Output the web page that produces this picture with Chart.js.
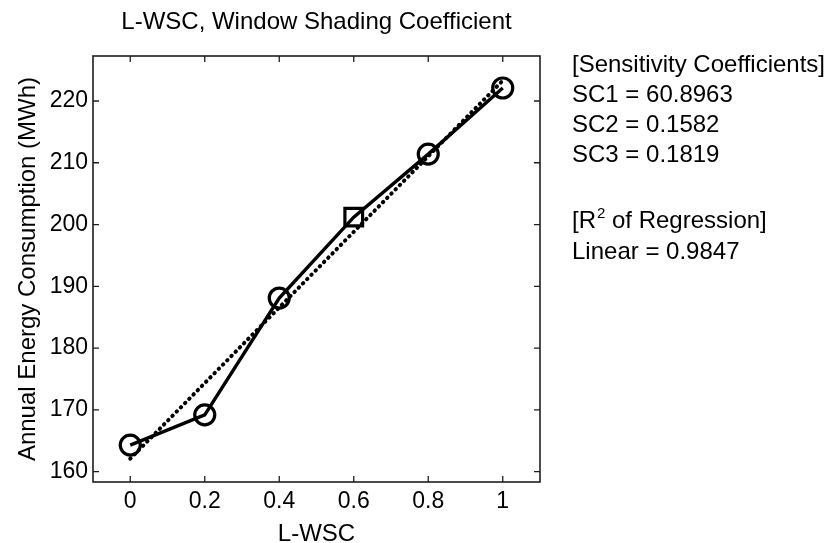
<!DOCTYPE html>
<html>
<head>
<meta charset="utf-8">
<title>L-WSC, Window Shading Coefficient</title>
<script src="https://cdn.jsdelivr.net/npm/chart.js@4/dist/chart.umd.min.js"></script>
<style>
  html, body { margin: 0; padding: 0; background: #ffffff; }
  #wrap { width: 834px; height: 543px; position: relative; }
</style>
</head>
<body>
<div id="wrap"><canvas id="chart"></canvas></div>
<script>
// Simulated annual energy use for each L-WSC setting
const xValues = [0, 0.2, 0.4, 0.6, 0.8, 1];
const energyMWh = [164.3, 169.2, 188.1, 201.2, 211.4, 222.1];
// Base case (0.6) is marked with a square
const markerStyles = ['circle', 'circle', 'circle', 'rect', 'circle', 'circle'];

// Linear regression line end points
const fitX = [0, 1];
const fitY = [162.1, 223.3];

// Axis ticks
const xTicks = [0, 0.2, 0.4, 0.6, 0.8, 1];
const xTickLabels = ['0', '0.2', '0.4', '0.6', '0.8', '1'];
const yTicks = [160, 170, 180, 190, 200, 210, 220];
const yTickLabels = ['160', '170', '180', '190', '200', '210', '220'];

// Side notes
const sensitivityHeader = '[Sensitivity Coefficients]';
const sensitivityLines = ['SC1 = 60.8963', 'SC2 = 0.1582', 'SC3 = 0.1819'];
const r2Linear = '0.9847';

const FONT = '"Liberation Sans", Arial, Helvetica, sans-serif';
const INK = '#000000';

// Box around the axes with inward tick marks on all four sides
const frameTicks = {
  id: 'frameTicks',
  afterDatasetsDraw(chart) {
    const { ctx, chartArea: a, scales } = chart;
    const len = 6;
    ctx.save();
    ctx.strokeStyle = '#1e1e1e';
    ctx.lineWidth = 1.6;
    ctx.strokeRect(a.left, a.top, a.right - a.left, a.bottom - a.top);
    ctx.lineWidth = 1.3;
    ctx.beginPath();
    xTicks.forEach(v => {
      const px = scales.x.getPixelForValue(v);
      ctx.moveTo(px, a.bottom); ctx.lineTo(px, a.bottom - len);
      ctx.moveTo(px, a.top); ctx.lineTo(px, a.top + len);
    });
    yTicks.forEach(v => {
      const py = scales.y.getPixelForValue(v);
      ctx.moveTo(a.left, py); ctx.lineTo(a.left + len, py);
      ctx.moveTo(a.right, py); ctx.lineTo(a.right - len, py);
    });
    ctx.stroke();
    ctx.restore();
  }
};

// Coefficient notes to the right of the axes
const sideNotes = {
  id: 'sideNotes',
  afterDraw(chart) {
    const { ctx, chartArea: a } = chart;
    const x = a.right + 32;
    ctx.save();
    ctx.fillStyle = INK;
    ctx.textBaseline = 'alphabetic';
    ctx.textAlign = 'left';
    ctx.font = '24px ' + FONT;
    ctx.fillText(sensitivityHeader, x, 72);
    sensitivityLines.forEach((t, i) => ctx.fillText(t, x, 102 + i * 30));
    // [R² of Regression]
    let cx = x;
    const yR = 227.5;
    ctx.fillText('[R', cx, yR);
    cx += ctx.measureText('[R').width;
    ctx.font = '15px ' + FONT;
    ctx.fillText('2', cx + 1, yR - 10);
    cx += ctx.measureText('2').width + 1;
    ctx.font = '24px ' + FONT;
    ctx.fillText(' of Regression]', cx, yR);
    ctx.fillText('Linear = ' + r2Linear, x, 258.5);
    ctx.restore();
  }
};

new Chart(document.getElementById('chart'), {
  type: 'line',
  data: {
    datasets: [
      {
        label: 'Linear fit',
        data: fitX.map((x, i) => ({ x, y: fitY[i] })),
        borderColor: INK,
        borderWidth: 4,
        borderDash: [0.5, 5.5],
        borderCapStyle: 'round',
        pointRadius: 0,
        fill: false
      },
      {
        label: 'Annual Energy Consumption',
        data: xValues.map((x, i) => ({ x, y: energyMWh[i] })),
        borderColor: INK,
        borderWidth: 3.4,
        pointStyle: markerStyles,
        pointRadius: markerStyles.map(s => s === 'rect' ? 12.5 : 10),
        pointBorderWidth: 3.2,
        pointBorderColor: INK,
        pointBackgroundColor: 'rgba(0,0,0,0)',
        fill: false,
        tension: 0
      }
    ]
  },
  options: {
    responsive: true,
    maintainAspectRatio: false,
    animation: false,
    layout: { padding: { left: 0, right: 294, top: 0, bottom: 0 } },
    plugins: {
      legend: { display: false },
      tooltip: { enabled: false },
      title: {
        display: true,
        fullSize: false,
        text: 'L-WSC, Window Shading Coefficient',
        color: INK,
        font: { family: FONT, size: 24, weight: 'normal', lineHeight: 1.2 },
        padding: { top: 7.6, bottom: 19.6 }
      }
    },
    scales: {
      x: {
        type: 'linear',
        min: -0.1,
        max: 1.1,
        afterFit(scale) { scale.height = 61; },
        afterBuildTicks(scale) { scale.ticks = xTicks.map(v => ({ value: v })); },
        grid: { display: false, drawTicks: false },
        border: { display: false },
        ticks: {
          color: INK,
          padding: 5.9,
          maxRotation: 0,
          autoSkip: false,
          font: { family: FONT, size: 23, lineHeight: 1.2 },
          callback: (v) => xTickLabels[xTicks.indexOf(v)]
        },
        title: {
          display: true,
          text: 'L-WSC',
          color: INK,
          font: { family: FONT, size: 24, lineHeight: 0.75 },
          padding: { top: 0, bottom: 0 }
        }
      },
      y: {
        type: 'linear',
        min: 158.33,
        max: 227.28,
        afterFit(scale) { scale.width = 93; },
        afterBuildTicks(scale) { scale.ticks = yTicks.map(v => ({ value: v })); },
        grid: { display: false, drawTicks: false },
        border: { display: false },
        ticks: {
          color: INK,
          padding: 5,
          autoSkip: false,
          font: { family: FONT, size: 23, lineHeight: 1.2 },
          callback: (v) => yTickLabels[yTicks.indexOf(v)]
        },
        title: {
          display: true,
          text: 'Annual Energy Consumption (MWh)',
          color: INK,
          font: { family: FONT, size: 24, lineHeight: 1.2 },
          padding: { top: 13.6, bottom: 0 }
        }
      }
    }
  },
  plugins: [frameTicks, sideNotes]
});
</script>
</body>
</html>
